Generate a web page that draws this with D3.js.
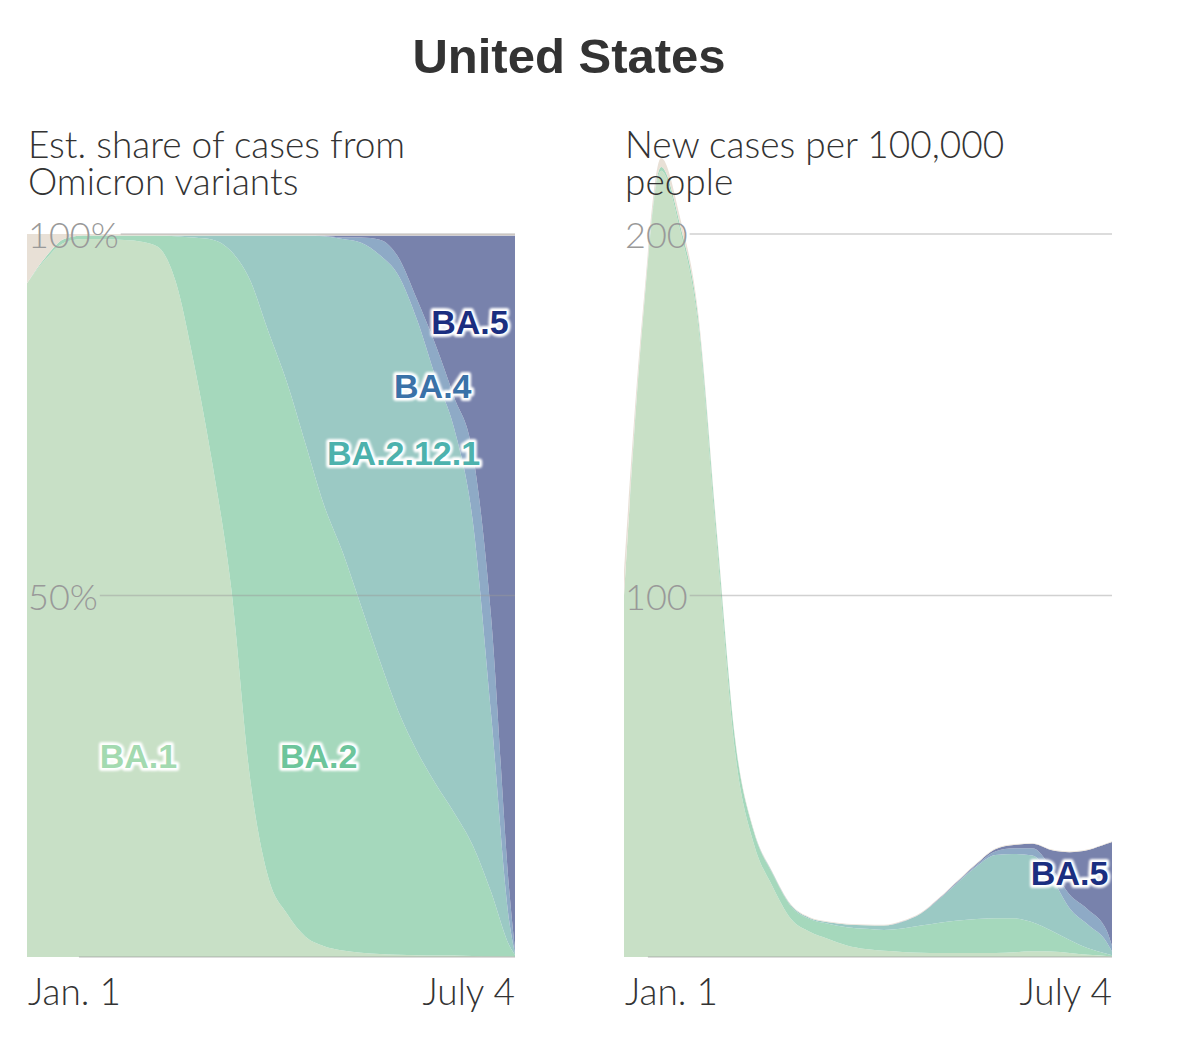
<!DOCTYPE html>
<html>
<head>
<meta charset="utf-8">
<script src="https://cdn.jsdelivr.net/npm/d3@7"></script>
<style>
  body { margin: 0; background: #fff; }
  svg text { font-family: Lato, "Open Sans", sans-serif; }
</style>
</head>
<body>
<div id="chart"></div>
<script>
// weekly points, Jan 1 to July 4
const dates = ["2022-01-01","2022-01-08","2022-01-15","2022-01-22","2022-01-29","2022-02-05","2022-02-12",
  "2022-02-19","2022-02-26","2022-03-05","2022-03-12","2022-03-19","2022-03-26","2022-04-02","2022-04-09",
  "2022-04-16","2022-04-23","2022-04-30","2022-05-07","2022-05-14","2022-05-21","2022-05-28","2022-06-04",
  "2022-06-11","2022-06-18","2022-06-25","2022-07-02","2022-07-04"];

// Est. share of cases (%)
const shareBA1   = [93.2,96.5,98.8,99.3,99.3,99.2,99.0,98.3,93.5,82,68,51,25,11,6,2.8,1.5,0.9,0.6,0.4,0.3,0.25,0.2,0.2,0.15,0.1,0.1,0.05];
const shareBA2   = [0,0.3,0.5,0.5,0.5,0.6,0.8,1.5,6.2,17.5,31.2,46.6,68.7,75.5,73.5,68.2,61,55.1,47.9,40.6,33.7,28.25,23.8,19.8,15.35,8.9,1.4,0.25];
const shareBA2121 = [0,0,0,0,0,0,0,0,0.1,0.3,0.6,2.2,6.1,13.3,20.3,28.8,37.2,43.3,50.3,56.1,60.3,59.7,56.3,53.2,45,24.5,3,0.2];
const shareBA4   = [0,0,0,0,0,0,0,0,0,0,0,0,0,0,0,0,0.05,0.2,0.7,2.1,2.5,2.8,4.4,4.3,9.3,13.5,4,0.5];
const shareBA5   = [0,0,0,0,0,0,0,0,0,0,0,0,0,0,0,0,0.05,0.3,0.3,0.6,3.0,8.8,15.1,22.3,30,52.8,91.3,98.8];
const shareOther = [6.8,3.2,0.7,0.2,0.2,0.2,0.2,0.2,0.2,0.2,0.2,0.2,0.2,0.2,0.2,0.2,0.2,0.2,0.2,0.2,0.2,0.2,0.2,0.2,0.2,0.2,0.2,0.2];

// New cases per 100,000 people, split by variant
const casesBA1   = [100,175,217.5,201.5,174.5,114,56,31.2,19.5,10.5,7,5,3.2,2.2,1.7,1.4,1.2,1.1,1.1,1.1,1.1,1.3,1.6,1.5,1.1,0.6,0.3,0.2];
const casesBA2   = [0,0.5,1,1.5,2,3,3.5,3.3,3.5,3.5,3.5,4.2,5,5.6,5.8,6.5,7.5,8.4,9,9.4,9.6,9.4,8,5.8,3.6,1.8,0.6,0.3];
const casesBA2121 = [0,0,0,0,0,0,0,0.2,0.3,0.3,0.3,0.4,0.8,1,1.2,1.8,3.3,6.6,10.6,14.6,17.5,17.8,18.5,14.8,8.8,6.5,3.2,1];
const casesBA4   = [0,0,0,0,0,0,0,0,0,0,0,0,0,0,0,0.1,0.1,0.1,0.2,0.4,1,1.6,2,2.8,3.8,4.2,3.2,1.6];
const casesBA5   = [0,0,0,0,0,0,0,0,0,0,0,0,0,0,0,0,0,0.1,0.2,0.3,0.6,0.9,1.2,4.7,11.7,16.5,24,28.7];
const casesOther = [7,2.5,2.5,2,1.5,1,0.5,0.3,0.2,0.2,0.2,0.2,0.2,0.2,0.2,0.2,0.2,0.2,0.2,0.2,0.2,0.2,0.2,0.2,0.2,0.2,0.2,0.2];

const keys = ["BA.1","BA.2","BA.2.12.1","BA.4","BA.5","Other"];
const shareTicks = [0, 50, 100];
const caseTicks = [0, 100, 200];

// variant labels: [text, date, value]
const shareLabels = [["BA.5","2022-06-17",87.8],["BA.4","2022-06-03",79],["BA.2.12.1","2022-05-23",69.8],
                     ["BA.1","2022-02-12",27.8],["BA.2","2022-04-21",27.8]];
const caseLabels = [["BA.5","2022-06-18",23.2]];

const fillColor = {"BA.1":"#c8e0c6","BA.2":"#a5d8bc","BA.2.12.1":"#9bc9c4","BA.4":"#8eaac6","BA.5":"#7882ac","Other":"#e8e0d6"};
const textColor = {"BA.1":"#a3dab0","BA.2":"#6cc59b","BA.2.12.1":"#4db2ad","BA.4":"#3a72a8","BA.5":"#1a2e80"};

const parse = d3.timeParse("%Y-%m-%d");

let w = 1200, h = 1045;
let plotTop = 234, plotBottom = 957;

let svg = d3.select("#chart")
            .append("svg")
            .attr("width", w)
            .attr("height", h);

// soft white glow behind the variant labels
let glow = svg.append("defs").append("filter").attr("id", "glow")
              .attr("x", "-20%").attr("y", "-40%").attr("width", "140%").attr("height", "180%");
glow.append("feGaussianBlur").attr("stdDeviation", 1.1);

svg.append("text")
   .attr("x", 569)
   .attr("y", 73)
   .attr("text-anchor", "middle")
   .style("font-family", "'Liberation Sans', Arial, sans-serif")
   .style("font-weight", "bold")
   .style("font-size", "49px")
   .style("fill", "#333")
   .text("United States");

let drawPanel = (left, right, title, series, domain, ticks, tickFmt, labels) => {

  let x = d3.scaleTime()
            .domain([parse(dates[0]), parse(dates[dates.length - 1])])
            .range([left, right]);

  let y = d3.scaleLinear()
            .domain(domain)
            .range([plotBottom, plotTop]);

  let g = svg.append("g");

  let rows = dates.map((d, i) => {
    let row = { date: parse(d) };
    keys.forEach((k, j) => row[k] = series[j][i]);
    return row;
  });

  let stacked = d3.stack().keys(keys)(rows);

  let area = d3.area()
               .x(d => x(d.data.date))
               .y0(d => y(d[0]))
               .y1(d => y(d[1]))
               .curve(d3.curveMonotoneX);

  g.selectAll(".layer")
    .data(stacked)
    .enter()
    .append("path")
    .attr("class", "layer")
    .attr("d", area)
    .style("fill", d => fillColor[d.key]);

  // subtitle, two lines in one text block, above the areas
  g.append("text")
    .attr("y", 158)
    .style("font-size", "37px")
    .style("font-weight", 300)
    .style("fill", "#333")
    .selectAll("tspan")
    .data(title)
    .enter()
    .append("tspan")
    .attr("x", left + 1)
    .attr("dy", (d, i) => i === 0 ? 0 : 37)
    .text(d => d);

  // gridlines start right after their label
  let tickLabels = [];
  ticks.forEach(t => {
    let label = g.append("text")
                 .attr("x", left + 1)
                 .attr("y", y(t) + 14)
                 .style("font-size", "36px")
                 .style("font-weight", 300)
                 .style("fill", "#999")
                 .style("opacity", t === 0 ? 0 : 1)
                 .text(tickFmt(t));

    let lw = label.node().getComputedTextLength();
    tickLabels.push(label);

    g.append("line")
      .attr("x1", left + lw + 3)
      .attr("x2", right)
      .attr("y1", y(t))
      .attr("y2", y(t))
      .style("stroke", "#999")
      .style("stroke-opacity", 0.45)
      .style("stroke-width", 1.5);
  });

  // bring tick labels above gridlines
  tickLabels.forEach(l => l.raise());

  // x axis end labels
  g.append("text")
    .attr("x", x(parse(dates[0])) + 1)
    .attr("y", 1005)
    .style("font-size", "37px")
    .style("font-weight", 300)
    .style("fill", "#333")
    .text("Jan. 1");

  g.append("text")
    .attr("x", x(parse(dates[dates.length - 1])))
    .attr("y", 1005)
    .attr("text-anchor", "end")
    .style("font-size", "37px")
    .style("font-weight", 300)
    .style("fill", "#333")
    .text("July 4");

  // variant labels with white halo
  labels.forEach(l => {
    let lx = x(parse(l[1])), ly = y(l[2]);
    [0, 1].forEach(pass => {
      let t = g.append("text")
               .attr("x", lx)
               .attr("y", ly)
               .attr("dy", "0.36em")
               .attr("text-anchor", "middle")
               .style("font-family", "'Liberation Sans', Arial, sans-serif")
               .style("font-weight", "bold")
               .style("font-size", "34px")
               .text(l[0]);
      if (pass === 0) {
        t.style("fill", "#fff")
         .style("stroke", "#fff")
         .style("stroke-width", 6)
         .style("stroke-linejoin", "round")
         .attr("filter", "url(#glow)");
      } else {
        t.style("fill", textColor[l[0]]);
      }
    });
  });
};

drawPanel(27, 515, ["Est. share of cases from", "Omicron variants"],
          [shareBA1, shareBA2, shareBA2121, shareBA4, shareBA5, shareOther],
          [0, 100], shareTicks, d => d + "%", shareLabels);

drawPanel(624, 1112, ["New cases per 100,000", "people"],
          [casesBA1, casesBA2, casesBA2121, casesBA4, casesBA5, casesOther],
          [0, 200], caseTicks, d => d, caseLabels);
</script>
</body>
</html>
